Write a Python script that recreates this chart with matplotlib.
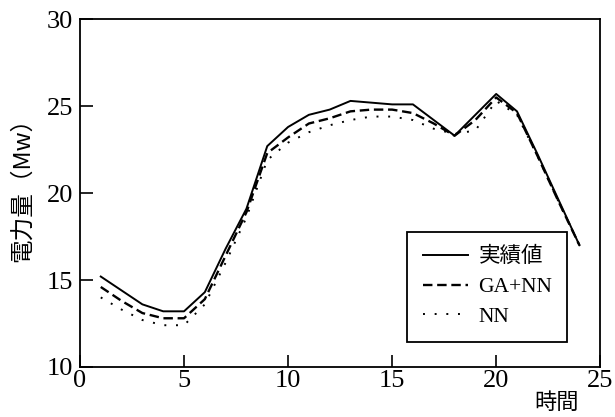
import matplotlib.pyplot as plt

# 時間 (hour) と電力量のデータ
hours = list(range(1, 25))
actual = [15.2, 14.4, 13.6, 13.2, 13.2, 14.3, 16.8, 19.1, 22.7, 23.8, 24.5, 24.8,
          25.3, 25.2, 25.1, 25.1, 24.2, 23.3, 24.5, 25.7, 24.7, 22.2, 19.6, 17.0]
ga_nn = [14.6, 13.8, 13.1, 12.8, 12.8, 13.9, 16.4, 18.9, 22.3, 23.2, 24.0, 24.3,
         24.7, 24.8, 24.8, 24.6, 24.0, 23.3, 24.2, 25.5, 24.6, 22.1, 19.5, 17.0]
nn = [14.0, 13.3, 12.7, 12.4, 12.4, 13.6, 16.0, 18.6, 21.9, 22.9, 23.5, 23.9,
      24.2, 24.4, 24.4, 24.2, 23.7, 23.4, 23.6, 25.3, 24.5, 22.1, 19.5, 17.0]
labels = ['実績値', 'GA+NN', 'NN']

plt.rcParams['font.family'] = ['Liberation Serif', 'Noto Sans CJK JP']

fig = plt.figure(figsize=(6.15, 4.17), dpi=100)
ax = fig.add_axes([0.130, 0.120, 0.846, 0.834])

ax.plot(hours, actual, c='black', linestyle='-', linewidth=1.4, label=labels[0])
ax.plot(hours, ga_nn, c='black', linestyle=(0, (4, 2)), linewidth=1.7, label=labels[1])
ax.plot(hours, nn, c='black', linestyle=(0, (1, 5)), linewidth=1.4, label=labels[2])

ax.set_xlim(0, 25)
ax.set_ylim(10, 30)
ax.set_xticks([0, 5, 10, 15, 20, 25])
ax.set_yticks([10, 15, 20, 25, 30])
ax.tick_params(direction='in', length=9, width=1.2, labelsize=19)
ax.tick_params(axis='x', pad=2)
ax.tick_params(axis='y', pad=5)
for s in ax.spines.values():
    s.set_linewidth(1.3)

ax.set_ylabel('電力量（Mw）', fontsize=17, family=['Noto Sans CJK JP'])
ax.yaxis.set_label_coords(-0.088, 0.525)
fig.text(0.905, 0.02, '時間', fontsize=16, family=['Noto Sans CJK JP'], ha='center')

leg = ax.legend(loc='lower right', bbox_to_anchor=(0.937, 0.072), borderaxespad=0,
                frameon=True, fancybox=False, edgecolor='black', framealpha=1,
                handlelength=2.1, handletextpad=0.5, borderpad=0.7, labelspacing=0.45,
                prop={'family': ['Liberation Serif', 'Noto Sans CJK JP'], 'size': 15.5})
leg.get_frame().set_linewidth(1.3)

fig.savefig('out.png', dpi=100)
